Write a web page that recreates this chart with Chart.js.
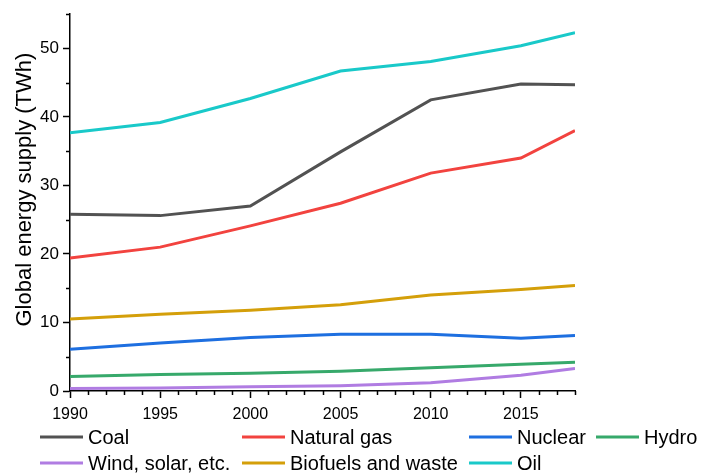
<!DOCTYPE html>
<html>
<head>
<meta charset="utf-8">
<script src="https://cdn.jsdelivr.net/npm/chart.js@4/dist/chart.umd.min.js"></script>
<style>
  html, body { margin: 0; padding: 0; background: #fff; }
  #wrap { position: relative; width: 707px; height: 476px; }
</style>
</head>
<body>
<div id="wrap"><canvas id="c" width="707" height="476"></canvas></div>
<script>
// Global energy supply by source (TWh)
const years = [1990, 1995, 2000, 2005, 2010, 2015, 2018];
const coal       = [25.8, 25.6, 27.0, 34.9, 42.5, 44.8, 44.7];
const naturalGas = [19.4, 21.0, 24.1, 27.4, 31.8, 34.0, 38.0];
const nuclear    = [6.1, 7.0, 7.8, 8.3, 8.3, 7.7, 8.1];
const hydro      = [2.1, 2.4, 2.6, 2.9, 3.4, 3.9, 4.2];
const windSolar  = [0.35, 0.45, 0.62, 0.78, 1.2, 2.3, 3.3];
const biofuels   = [10.5, 11.2, 11.8, 12.6, 14.0, 14.8, 15.4];
const oil        = [37.7, 39.2, 42.7, 46.7, 48.1, 50.4, 52.3];

const xTicks = [1990, 1995, 2000, 2005, 2010, 2015];
const yTicks = [0, 10, 20, 30, 40, 50];
const yTitle = 'Global energy supply (TWh)';

const series = [
  { label: 'Coal',                values: coal,       color: '#525252' },
  { label: 'Natural gas',         values: naturalGas, color: '#f2433f' },
  { label: 'Nuclear',             values: nuclear,    color: '#1e6fe0' },
  { label: 'Hydro',               values: hydro,      color: '#37a96b' },
  { label: 'Wind, solar, etc.',   values: windSolar,  color: '#b07ce2' },
  { label: 'Biofuels and waste',  values: biofuels,   color: '#d49f0a' },
  { label: 'Oil',                 values: oil,        color: '#19c9c9' }
];

const FONT = '"Liberation Sans", Arial, sans-serif';

// minor tick marks between the labelled ticks
const minorTicks = {
  id: 'minorTicks',
  afterDraw(chart) {
    const ctx = chart.ctx;
    const xs = chart.scales.x, ys = chart.scales.y;
    ctx.save();
    ctx.strokeStyle = '#000';
    ctx.lineWidth = 1.5;
    ctx.beginPath();
    for (let v = 1990; v <= 2018; v++) {
      if (v % 5 === 0) continue;
      const px = Math.round(xs.getPixelForValue(v)) + 0.5;
      ctx.moveTo(px, ys.bottom);
      ctx.lineTo(px, ys.bottom + 4);
    }
    for (let v = 5; v <= 55; v += 10) {
      const py = Math.round(ys.getPixelForValue(v)) + 0.5;
      ctx.moveTo(xs.left, py);
      ctx.lineTo(xs.left - 4, py);
    }
    ctx.stroke();
    ctx.restore();
  }
};

// rotated y-axis title, centred a little above the middle of the axis
const yAxisTitle = {
  id: 'yAxisTitle',
  afterDraw(chart) {
    const ctx = chart.ctx;
    const ys = chart.scales.y;
    ctx.save();
    ctx.translate(25, (ys.top + ys.bottom) / 2 - 13);
    ctx.rotate(-Math.PI / 2);
    ctx.font = '22px ' + FONT;
    ctx.fillStyle = '#000';
    ctx.textAlign = 'center';
    ctx.textBaseline = 'middle';
    ctx.fillText(yTitle, 0, 0);
    ctx.restore();
  }
};

// two-row legend under the axis
const gridLegend = {
  id: 'gridLegend',
  afterDraw(chart) {
    const ctx = chart.ctx;
    const cols = [40, 242, 469, 596];
    const rows = [437, 463];
    const slots = [[0,0],[1,0],[2,0],[3,0],[0,1],[1,1],[2,1]];
    ctx.save();
    ctx.font = '20px ' + FONT;
    ctx.textBaseline = 'middle';
    chart.data.datasets.forEach((ds, i) => {
      const [c, r] = slots[i];
      const x = cols[c], y = rows[r];
      ctx.strokeStyle = ds.borderColor;
      ctx.lineWidth = 3;
      ctx.beginPath();
      ctx.moveTo(x, y);
      ctx.lineTo(x + 43, y);
      ctx.stroke();
      ctx.fillStyle = '#000';
      ctx.fillText(ds.label, x + 48, y + 1);
    });
    ctx.restore();
  }
};

new Chart(document.getElementById('c'), {
  type: 'line',
  data: {
    datasets: series.map(s => ({
      label: s.label,
      data: years.map((y, i) => ({ x: y, y: s.values[i] })),
      borderColor: s.color,
      backgroundColor: s.color,
      borderWidth: 3,
      pointRadius: 0,
      tension: 0,
      fill: false
    }))
  },
  options: {
    responsive: false,
    animation: false,
    layout: { padding: { top: 10, right: 132, left: 0, bottom: 0 } },
    plugins: { legend: { display: false }, tooltip: { enabled: false } },
    scales: {
      x: {
        type: 'linear',
        min: 1990,
        max: 2018,
        afterBuildTicks: s => { s.ticks = xTicks.map(v => ({ value: v })); },
        afterFit: s => { s.height = 85; },
        grid: { drawOnChartArea: false, drawTicks: true, tickLength: 7, tickWidth: 1.5, tickColor: '#000' },
        border: { display: true, color: '#000', width: 1.5 },
        ticks: { color: '#000', font: { family: FONT, size: 16 }, padding: 7, maxRotation: 0, autoSkip: false,
                 callback: v => String(v) }
      },
      y: {
        type: 'linear',
        min: 0,
        max: 55,
        afterBuildTicks: s => { s.ticks = yTicks.map(v => ({ value: v })); },
        afterFit: s => { s.width = 70; },
        grid: { drawOnChartArea: false, drawTicks: true, tickLength: 7, tickWidth: 1.5, tickColor: '#000' },
        border: { display: true, color: '#000', width: 1.5 },
        ticks: { color: '#000', font: { family: FONT, size: 17 }, padding: 4 }
      }
    }
  },
  plugins: [minorTicks, yAxisTitle, gridLegend]
});
</script>
</body>
</html>
